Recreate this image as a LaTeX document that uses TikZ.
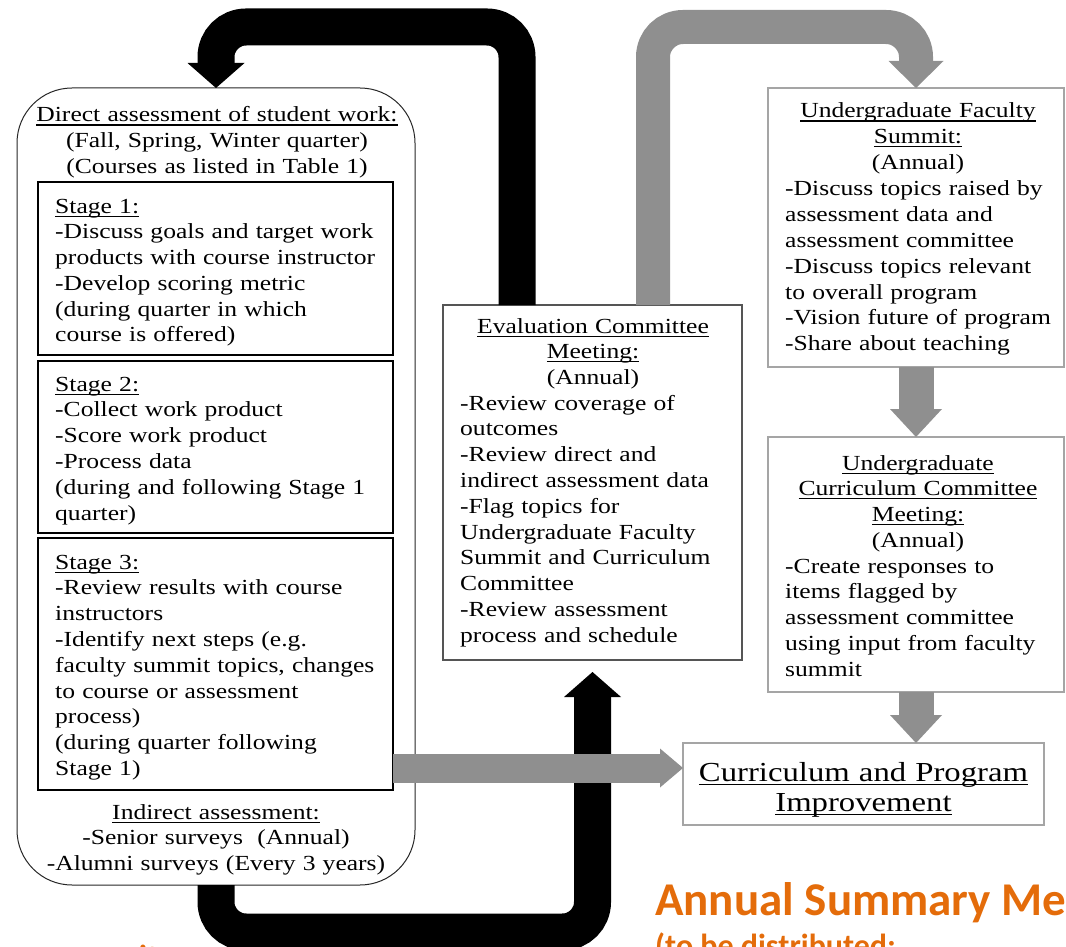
\documentclass[tikz,border=0pt]{standalone}
\usepackage{fontspec}
\setmainfont{Liberation Serif}[FakeStretch=1.19]
\newfontfamily\calib{Carlito}
\usetikzlibrary{arrows.meta,calc}
\definecolor{arrgray}{RGB}{143,143,143}
\definecolor{orng}{RGB}{228,108,10}
\definecolor{boxgray}{RGB}{165,165,165}
\definecolor{midgray}{RGB}{85,85,85}
\newcommand{\uln}[1]{\leavevmode{\setbox0\hbox{#1}\rlap{\rule[-3.6pt]{\wd0}{1.1pt}}\box0}}
\begin{document}
\begin{tikzpicture}[x=1pt,y=-1pt,
  boxbase/.style={inner sep=0pt, outer sep=0pt},
  stagebox/.style={boxbase, draw=black, line width=1.3pt},
  panelbox/.style={boxbase, draw=black!85, line width=1pt, rounded corners=55pt},
  midbox/.style={boxbase, draw=midgray, line width=1.6pt},
  sidebox/.style={boxbase, draw=boxgray, line width=2pt},
  txt/.style={inner sep=0pt, font=\fontsize{21.5}{25.8}\selectfont},
  ltxt/.style={txt, text width=420pt, align=left, anchor=base west},
  ctxt/.style={txt, text width=420pt, align=center, anchor=base},
  otxt/.style={inner sep=0pt, text=orng, anchor=base west},
  blkarrow/.style={line width=37pt, black, rounded corners=30pt,
    -{Triangle[width=57pt,length=25pt,line width=0pt]}},
  grayloop/.style={line width=34pt, arrgray, rounded corners=30pt,
    -{Triangle[width=55pt,length=27pt,line width=0pt]}},
  grayvert/.style={line width=35pt, arrgray,
    -{Triangle[width=52pt,length=28pt,line width=0pt]}},
  grayhor/.style={line width=29pt, arrgray,
    -{Triangle[width=39pt,length=23pt,line width=0pt]}}
]
\useasboundingbox (0,0) rectangle (1066,947);

% boxes
\node[panelbox, minimum width=398pt, minimum height=797pt] (panel) at (216,486.5) {};
\node[stagebox, minimum width=355pt, minimum height=173pt] (s1) at (215.5,268.5) {};
\node[stagebox, minimum width=355pt, minimum height=172pt] (s2) at (215.5,447) {};
\node[stagebox, minimum width=355pt, minimum height=252pt] (s3) at (215.5,664) {};
\node[midbox, minimum width=299pt, minimum height=355pt] (eval) at (592.5,482.5) {};
\node[sidebox, minimum width=296pt, minimum height=279pt] (fac) at (916,227.5) {};
\node[sidebox, minimum width=296pt, minimum height=255pt] (cc) at (916,564.5) {};
\node[sidebox, line width=1.6pt, minimum width=361pt, minimum height=82pt] (cpi) at (863.5,784) {};

% arrows
\draw[blkarrow] ([xshift=-75.5pt]eval.north) -- ++(0,-278) -| (panel.north);
\draw[blkarrow] (panel.south) -- ++(0,47) -| ([yshift=-12pt]eval.south);
\draw[grayloop] ([xshift=60.5pt]eval.north) -- ++(0,-278) -| (fac.north);
\draw[grayvert] (fac.south) -- (cc.north);
\draw[grayvert] (cc.south) -- (cc.south |- cpi.north);
\coordinate (cpiin) at ([yshift=16pt]cpi.west);
\draw[grayhor] (s3.east |- cpiin) -- (cpiin);

% texts: left panel
\node[ctxt] (panelhead) at (217,122) {\uln{Direct assessment of student work:}\\(Fall, Spring, Winter quarter)\\(Courses as listed in Table 1)};
\node[ltxt] (s1text) at (55,213) {\uln{Stage 1:}\\-Discuss goals and target work\\products with course instructor\\-Develop scoring metric\\(during quarter in which\\course is offered)};
\node[ltxt] (s2text) at (55,391) {\uln{Stage 2:}\\-Collect work product\\-Score work product\\-Process data\\(during and following Stage 1\\quarter)};
\node[ltxt] (s3text) at (55,569) {\uln{Stage 3:}\\-Review results with course\\instructors\\-Identify next steps (e.g.\\faculty summit topics, changes\\to course or assessment\\process)\\(during quarter following\\Stage 1)};
\node[ctxt] (indirect) at (216,819) {\uln{Indirect assessment:}\\-Senior surveys\ \ (Annual)\\-Alumni surveys (Every 3 years)};

% middle box
\node[ctxt] (evalhead) at (593,333) {\uln{Evaluation Committee}\\\uln{Meeting:}\\(Annual)};
\node[ltxt] (evalbody) at (460,410) {-Review coverage of\\outcomes\\-Review direct and\\indirect assessment data\\-Flag topics for\\Undergraduate Faculty\\Summit and Curriculum\\Committee\\-Review assessment\\process and schedule};

% right boxes
\node[ctxt] (fachead) at (918,118) {\uln{Undergraduate Faculty}\\\uln{Summit:}\\(Annual)};
\node[ltxt] (facbody) at (785,196) {-Discuss topics raised by\\assessment data and\\assessment committee\\-Discuss topics relevant\\to overall program\\-Vision future of program\\-Share about teaching};
\node[ctxt] (cchead) at (918,470) {\uln{Undergraduate}\\\uln{Curriculum Committee}\\\uln{Meeting:}\\(Annual)};
\node[ltxt] (ccbody) at (785,573) {-Create responses to\\items flagged by\\assessment committee\\using input from faculty\\summit};
\node[txt, text width=420pt, align=center, anchor=base, font=\fontsize{27.5}{30}\selectfont] (cpitext) at (863.5,781) {\uln{Curriculum and Program}\\\uln{Improvement}};

% orange texts (cut by the page edge)
\node[otxt, font=\calib\bfseries\fontsize{47}{50}\selectfont] (title) at (655,915) {Annual Summary Me};
\node[otxt, font=\calib\bfseries\fontsize{32}{36}\selectfont] (subtitle) at (655,956) {(to be distributed:};
\node[otxt, font=\calib\bfseries\fontsize{32}{36}\selectfont] (frag) at (139,967) {it};
\end{tikzpicture}
\end{document}
